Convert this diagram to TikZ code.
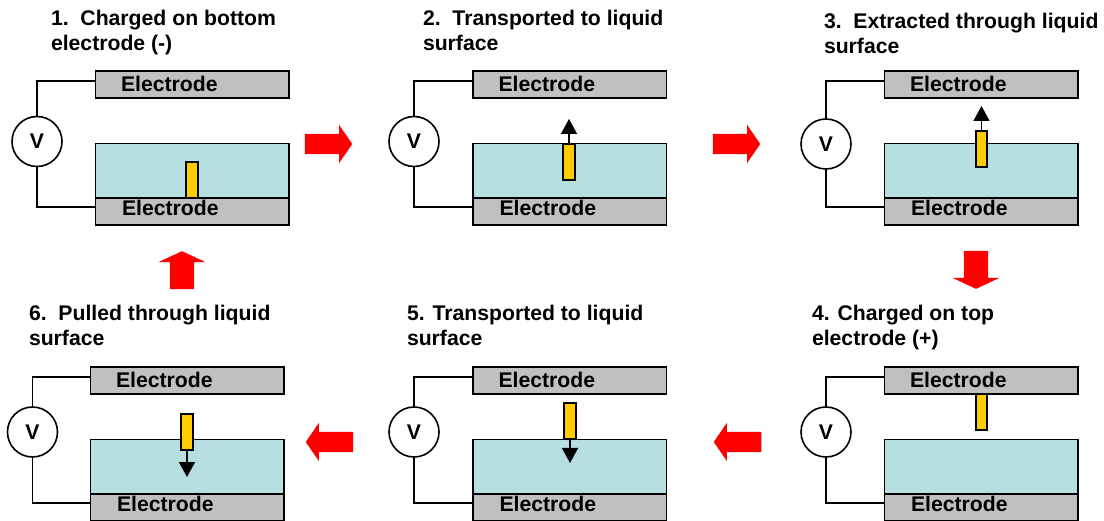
\documentclass[tikz,border=0pt]{standalone}
\usepackage{fontspec}
\setmainfont{Liberation Sans}
\usetikzlibrary{arrows.meta,shapes.arrows}
\definecolor{liquid}{HTML}{B7DFE1}
\definecolor{metal}{HTML}{C0C0C0}
\definecolor{capsule}{HTML}{FFCC00}
\tikzset{
  x=1pt,y=-1pt,
  every node/.style={inner sep=0pt,outer sep=0pt},
  lbl/.style={font=\bfseries\fontsize{21.2}{25}\selectfont},
  titletext/.style={lbl,anchor=north west,align=left},
  boxbase/.style={draw=black,line width=1.7pt,anchor=north west,minimum width=193.5pt},
  electrode/.style={boxbase,fill=metal,minimum height=27pt},
  fluid/.style={boxbase,fill=liquid,minimum height=54.5pt},
  capbar/.style={draw=black,line width=1.7pt,fill=capsule,anchor=north,minimum width=11.5pt,minimum height=36pt},
  wire/.style={draw=black,line width=1.5pt},
  volt/.style={circle,draw=black,fill=white,line width=1.6pt,minimum size=50pt,font=\bfseries\fontsize{21.2}{25}\selectfont},
  motion/.style={draw=black,line width=1.5pt,-{Triangle[width=16pt,length=15pt]}},
  flowh/.style={single arrow,fill=red,minimum height=47.5pt,minimum width=38pt,inner sep=10pt,
    single arrow head extend=9pt,single arrow tip angle=111},
  flowv/.style={single arrow,fill=red,minimum height=38pt,minimum width=47pt,inner sep=12pt,
    single arrow head extend=11.5pt,single arrow tip angle=130}
}
% name, dx, dy, voltmeter x, voltmeter y, capsule centre x, capsule top y
\newcommand{\cellpanel}[7]{%
  \node[electrode] (#1top) at (#2,#3+71) {};
  \node[fluid] (#1liq) at (#2,#3+143.5) {};
  \node[electrode] (#1bot) at (#2,#3+198) {};
  \node[lbl,anchor=base west] (#1tl) at (#2+25.5,#3+91.5) {Electrode};
  \node[lbl,anchor=base west] (#1bl) at (#2+26.5,#3+215.5) {Electrode};
  \node[volt] (#1v) at (#4,#5) {V};
  \draw[wire] (#1v.north) |- ([yshift=3.5pt]#1top.west);
  \draw[wire] (#1v.south) |- ([yshift=4.5pt]#1bot.west);
  \node[capbar] (#1cap) at (#6,#7) {};
}
\begin{document}
\begin{tikzpicture}
\useasboundingbox (0,0) rectangle (1104,521);
\cellpanel{a}{95.5}{0}{37}{141.5}{192}{162}
\cellpanel{b}{473}{0}{414}{141.5}{569}{144}
\cellpanel{c}{884.5}{0}{826}{144}{981.5}{131}
\cellpanel{d}{884.5}{296}{826}{432}{981.5}{394}
\cellpanel{e}{473}{296}{414}{432}{570}{403}
\cellpanel{f}{90.5}{296}{32.5}{432}{187}{414}
\coordinate (bt) at (569,119);
\coordinate (ct) at (981.5,106);
\coordinate (et) at (570,463);
\coordinate (ft) at (187,477);
\draw[motion] (bcap.north) -- (bt);
\draw[motion] (ccap.north) -- (ct);
\draw[motion] (ecap.south) -- (et);
\draw[motion] (fcap.south) -- (ft);
\node[titletext] (t1) at (51,10) {1.\ \ Charged on bottom\\electrode (-)};
\node[titletext] (t2) at (423,10) {2.\ \ Transported to liquid\\surface};
\node[titletext] (t3) at (824,13) {3.\ \ Extracted through liquid\\surface};
\node[titletext] (t4) at (812,305) {4. Charged on top\\electrode (+)};
\node[titletext] (t5) at (407,305) {5. Transported to liquid\\surface};
\node[titletext] (t6) at (29,305) {6.\ \ Pulled through liquid\\surface};
\node[flowh] (f1) at (325,144) {};
\node[flowh] (f2) at (733,144) {};
\node[flowv,shape border rotate=270] (f3) at (976,267) {};
\node[flowh,shape border rotate=180] (f4) at (741,442) {};
\node[flowh,shape border rotate=180] (f5) at (333,442) {};
\node[flowv,shape border rotate=90] (f6) at (182,273) {};
\end{tikzpicture}
\end{document}
